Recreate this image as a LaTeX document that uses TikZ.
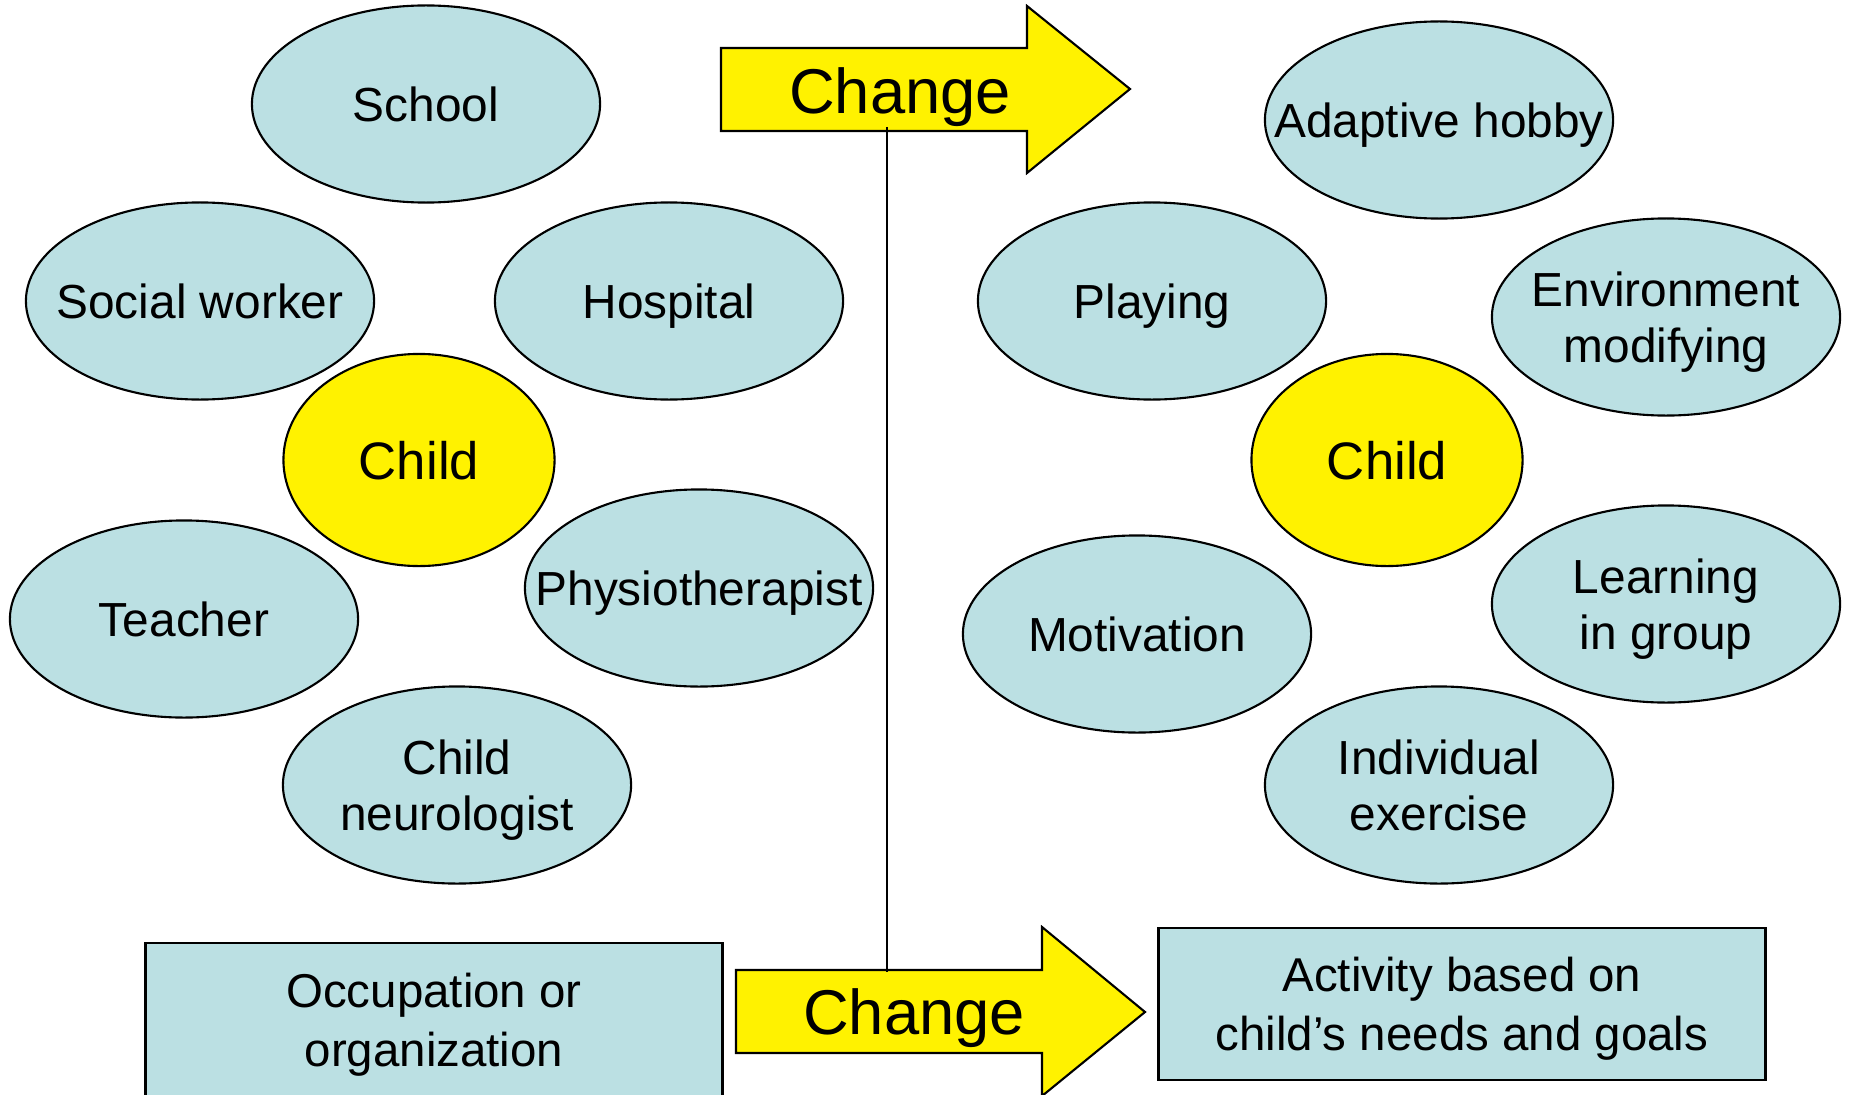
\documentclass[tikz,border=0pt]{standalone}
\usepackage{fontspec}
\setmainfont{Liberation Sans}
\usetikzlibrary{shapes.geometric, positioning}
\definecolor{lightBlue}{RGB}{187,224,227}
\tikzstyle{normalEllipse} = [shape=ellipse, draw=black, text=black, line width=0.6pt,
	align=center, fill=lightBlue, inner xsep=-2cm, inner ysep=-1cm, text depth=0pt,
	minimum width=3.48cm, minimum height=1.97cm, font=\fontsize{13.6}{16.1}\selectfont]
\tikzstyle{childEllipse} = [normalEllipse, fill=yellow, minimum width=2.71cm,
	minimum height=2.12cm, font=\fontsize{15}{18}\selectfont]
\tikzstyle{normalBox} = [shape=rectangle, draw=black, text=black, line width=0.8pt,
	align=center, fill=lightBlue, inner sep=0pt, text depth=0pt,
	font=\fontsize{13.5}{16.8}\selectfont]
\tikzstyle{changeArrow} = [draw=black, line width=0.6pt, fill=yellow]
\tikzstyle{changeText} = [text=black, font=\fontsize{18}{21}\selectfont]
\tikzstyle{normalLine} = [line width=0.8pt, draw=black]

\begin{document}
\begin{tikzpicture}[x=0.01cm, y=-0.01cm]
	\clip (0,0) rectangle (1849,1094);

	% organisation side
	\node (School) at (426,104) [normalEllipse] {School};
	\node (SocialWorker) at (200,301) [normalEllipse] {Social worker};
	\node (Hospital) at (669,301) [normalEllipse] {Hospital};
	\node (ChildLeft) at (419,460) [childEllipse] {Child};
	\node (Teacher) at (184,619) [normalEllipse] {Teacher};
	\node (Physio) at (699,588) [normalEllipse] {Physiotherapist};
	\node (Neurologist) at (457,785) [normalEllipse] {Child\\ neurologist};

	% activity side
	\node (Hobby) at (1439,120) [normalEllipse] {Adaptive hobby};
	\node (Playing) at (1152,301) [normalEllipse] {Playing};
	\node (Environment) at (1666,317) [normalEllipse] {Environment\\ modifying};
	\node (ChildRight) at (1387,460) [childEllipse] {Child};
	\node (Motivation) at (1137,634) [normalEllipse] {Motivation};
	\node (Learning) at (1666,604) [normalEllipse] {Learning\\ in group};
	\node (Exercise) at (1439,785) [normalEllipse] {Individual\\ exercise};

	% change arrows
	\draw [changeArrow] (721,48) -- (1027,48) -- (1027,6) -- (1130,89) -- (1027,173)
		-- (1027,131) -- (721,131) -- cycle;
	\node (ChangeTop) at (900,97) [changeText] {Change};
	\draw [changeArrow] (736,970) -- (1042,970) -- (1042,927) -- (1145,1012) -- (1042,1096)
		-- (1042,1053) -- (736,1053) -- cycle;
	\node (ChangeBottom) at (914,1018) [changeText] {Change};

	\coordinate (LineTop) at (887,127);
	\coordinate (LineBottom) at (887,972);
	\draw [normalLine] (LineTop) -- (LineBottom);

	% boxes
	\node (Occupation) at (434,1020) [normalBox, minimum width=5.76cm, minimum height=1.54cm]
		{Occupation or\\ organization};
	\node (Activity) at (1462,1004) [normalBox, minimum width=6.06cm, minimum height=1.52cm]
		{Activity based on\\ child’s needs and goals};
\end{tikzpicture}
\end{document}
